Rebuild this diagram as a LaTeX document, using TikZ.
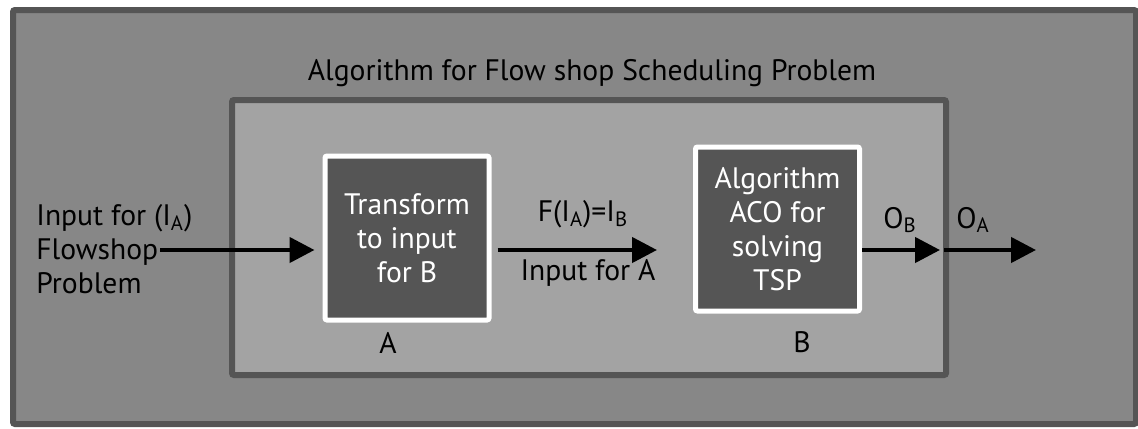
\documentclass[tikz,border=0pt]{standalone}
\usepackage{fontspec}
\setmainfont{PT Sans}
\usetikzlibrary{arrows.meta}
\definecolor{rim}{HTML}{555555}
\definecolor{outerbg}{HTML}{878787}
\definecolor{innerbg}{HTML}{A3A3A3}
\begin{document}
\begin{tikzpicture}[x=0.5pt,y=-0.5pt,->,>={Triangle[length=12.5pt,width=12.5pt]}]
    \tikzstyle{every node}=[font=\fontsize{14.8pt}{17pt}\selectfont,inner sep=1pt];
    \tikzstyle{stage}=[draw=white,line width=2.5pt,fill=rim,text=white,align=center,
        minimum width=82pt,minimum height=82pt,rounded corners=1pt];
    \tikzstyle{flow}=[draw,line width=2.2pt];
    \useasboundingbox (0,0) rectangle (1138,428);
    % frames
    \draw[-,draw=rim,fill=outerbg,line width=3pt,rounded corners=1pt] (13,10) rectangle (1136,424);
    \draw[-,draw=rim,fill=innerbg,line width=3pt,rounded corners=1pt] (232,100) rectangle (946,375);
    \node at (592,73) (title) {Algorithm for Flow shop Scheduling Problem};

    \node at (34,249) (input) [anchor=west,align=left] {Input for (I\textsubscript{A})\\Flowshop\\Problem};
    \node at (407,238) (tA) [stage] {Transform\\to input\\for B};
    \node at (777.5,229) (tB) [stage] {Algorithm\\ACO for\\solving\\TSP};
    \node at (388,343) (labA) {A};
    \node at (802,342) (labB) {B};
    \node at (583,214) (fIA) {F(I\textsubscript{A})=I\textsubscript{B}};
    \node at (588,273) (inA) {Input for A};
    \node at (900,220) (oB) {O\textsubscript{B}};
    \node at (973,220) (oA) {O\textsubscript{A}};

    \coordinate (inStart) at (160,250);
    \coordinate (fEnd) at (657,250);
    \coordinate (bEnd) at (942,250);
    \coordinate (aEnd) at (1036,250);

    \draw[flow] (inStart) to ([xshift=-4pt]inStart -| tA.west);
    \draw[flow] ([xshift=3pt]fEnd -| tA.east) to (fEnd);
    \draw[flow] (bEnd -| tB.east) to ([xshift=-1pt]bEnd);
    \draw[flow] ([xshift=1pt]bEnd) to (aEnd);
\end{tikzpicture}
\end{document}
